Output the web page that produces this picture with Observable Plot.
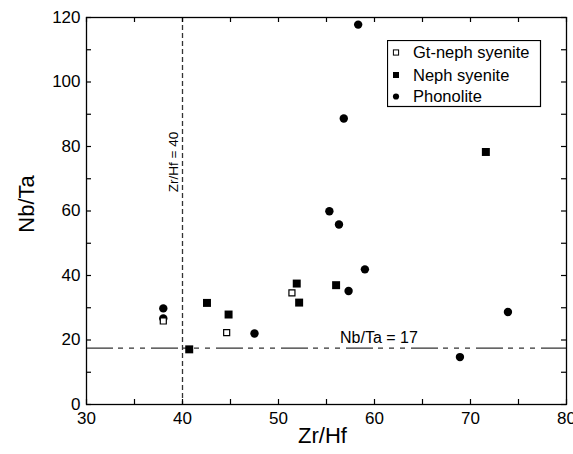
<!DOCTYPE html>
<html>
<head>
<meta charset="utf-8">
<script src="https://cdn.jsdelivr.net/npm/d3@7"></script>
<script src="https://cdn.jsdelivr.net/npm/@observablehq/plot@0.6"></script>
<style>
  html, body { margin: 0; padding: 0; background: #fff; }
  #wrap { position: relative; width: 573px; height: 454px; overflow: hidden; }
  #wrap > svg.main { position: absolute; left: 0; top: 0; }
  #wrap > svg#legend { position: absolute; left: 387px; top: 40px; }
</style>
</head>
<body>
<div id="wrap"></div>
<script>
// ---- data ----
const gtNephZrHf = [38.0, 44.6, 51.4];
const gtNephNbTa = [25.9, 22.3, 34.6];

const nephZrHf = [40.7, 42.55, 44.8, 51.9, 52.15, 56.0, 71.6];
const nephNbTa = [17.1, 31.5, 27.9, 37.5, 31.6, 37.0, 78.3];

const phonZrHf = [38.0, 38.0, 47.5, 55.3, 56.3, 56.8, 58.3, 57.3, 59.0, 68.9, 73.9];
const phonNbTa = [29.8, 26.7, 22.0, 59.9, 55.8, 88.7, 117.8, 35.2, 41.9, 14.7, 28.7];

const seriesNames = ["Gt-neph syenite", "Neph syenite", "Phonolite"];

const refZrHf = 40;      // vertical reference line
const refNbTa = 17.5;    // horizontal reference line (chondritic)
const refLabels = ["Zr/Hf = 40", "Nb/Ta = 17"];

const xMajorTicks = [30, 40, 50, 60, 70, 80];
const xMinorTicks = [35, 45, 55, 65, 75];
const yMajorTicks = [0, 20, 40, 60, 80, 100, 120];
const yMinorTicks = [10, 30, 50, 70, 90, 110];
const xTitle = "Zr/Hf";
const yTitle = "Nb/Ta";

// ---- build tables ----
const toRows = (xs, ys) => xs.map((x, i) => ({x, y: ys[i]}));
const gtRows = toRows(gtNephZrHf, gtNephNbTa);
const nephRows = toRows(nephZrHf, nephNbTa);
const phonRows = toRows(phonZrHf, phonNbTa);
const xAll = [...xMajorTicks, ...xMinorTicks];
const yAll = [...yMajorTicks, ...yMinorTicks];

const font = "Liberation Sans, Arial, sans-serif";
const lineColor = "#333";
const W = 573, H = 454;
const mL = 86, mR = 7, mT = 17, mB = 50;
const frameW = W - mL - mR, frameH = H - mT - mB;
const tk = 5; // inward tick length

const chart = Plot.plot({
  width: W,
  height: H,
  marginLeft: mL,
  marginRight: mR,
  marginTop: mT,
  marginBottom: mB,
  className: "main",
  style: {fontFamily: font, background: "white", color: "black"},
  x: {domain: [30, 80]},
  y: {domain: [0, 120]},
  marks: [
    // reference lines
    Plot.ruleY([refNbTa], {stroke: lineColor, strokeWidth: 1.3, strokeDasharray: "27,5,5,6,5,6,5,6"}),
    Plot.ruleX([refZrHf], {stroke: lineColor, strokeWidth: 1.3, strokeDasharray: "5,3"}),
    // tick labels
    Plot.axisX(xMajorTicks, {anchor: "bottom", tickSize: 0, tickPadding: 7, fontSize: 17, label: null, fill: "black"}),
    Plot.axisY(yMajorTicks, {anchor: "left", tickSize: 0, tickPadding: 6, fontSize: 17, label: null, fill: "black"}),
    // axis titles
    Plot.text([xTitle], {frameAnchor: "bottom", dx: -4, dy: 38.4, lineAnchor: "bottom", fontSize: 22, fill: "black"}),
    Plot.text([yTitle], {frameAnchor: "left", dx: -53, dy: -7, rotate: -90, lineAnchor: "bottom", textAnchor: "middle", fontSize: 22, fill: "black"}),
    // reference-line labels
    Plot.text([refLabels[0]], {x: () => refZrHf, frameAnchor: "middle", dx: -4.5, dy: -49, rotate: -90, lineAnchor: "bottom", textAnchor: "middle", fontSize: 13.5, fill: "black"}),
    Plot.text([refLabels[1]], {y: () => refNbTa, frameAnchor: "middle", dx: 52.4, dy: -5, lineAnchor: "bottom", textAnchor: "middle", fontSize: 16, fill: "black"}),
    // data
    Plot.dot(phonRows, {x: "x", y: "y", r: 4.2, fill: "black", stroke: "none"}),
    Plot.dot(nephRows, {x: "x", y: "y", symbol: "square", r: 4.5, fill: "black", stroke: "none"}),
    Plot.dot(gtRows, {x: "x", y: "y", symbol: "square", r: 3.4, fill: "white", stroke: "black", strokeWidth: 1.2}),
    // frame
    Plot.frame({stroke: "black", strokeWidth: 1.3}),
    // inward ticks on all four sides
    Plot.tickX(xAll, {x: d => d, insetTop: frameH - tk, stroke: "black", strokeWidth: 1.2}),
    Plot.tickX(xAll, {x: d => d, insetBottom: frameH - tk, stroke: "black", strokeWidth: 1.2}),
    Plot.tickY(yAll, {y: d => d, insetRight: frameW - tk, stroke: "black", strokeWidth: 1.2}),
    Plot.tickY(yAll, {y: d => d, insetLeft: frameW - tk, stroke: "black", strokeWidth: 1.2})
  ]
});

const wrap = document.getElementById("wrap");
wrap.appendChild(chart);

// ---- legend (inside the plot area, top right) ----
const ns = "http://www.w3.org/2000/svg";
const lg = document.createElementNS(ns, "svg");
lg.setAttribute("id", "legend");
lg.setAttribute("width", 155);
lg.setAttribute("height", 68);
const mk = (tag, attrs, parent) => {
  const el = document.createElementNS(ns, tag);
  for (const k in attrs) el.setAttribute(k, attrs[k]);
  parent.appendChild(el);
  return el;
};
mk("rect", {x: 0.5, y: 0.5, width: 153, height: 66, fill: "white", stroke: "black", "stroke-width": 1.2}, lg);
const rowY = [12.5, 35, 56.5];
// symbols
mk("rect", {x: 9 - 2.6, y: rowY[0] - 2.6, width: 5.2, height: 5.2, fill: "white", stroke: "black", "stroke-width": 1}, lg);
mk("rect", {x: 9 - 3, y: rowY[1] - 3, width: 6, height: 6, fill: "black"}, lg);
mk("circle", {cx: 9, cy: rowY[2], r: 3.1, fill: "black"}, lg);
seriesNames.forEach((name, i) => {
  const t = mk("text", {x: 26, y: rowY[i] + 5.5, "font-size": 16.5, "font-family": font, fill: "black"}, lg);
  t.textContent = name;
});
wrap.appendChild(lg);
</script>
</body>
</html>
